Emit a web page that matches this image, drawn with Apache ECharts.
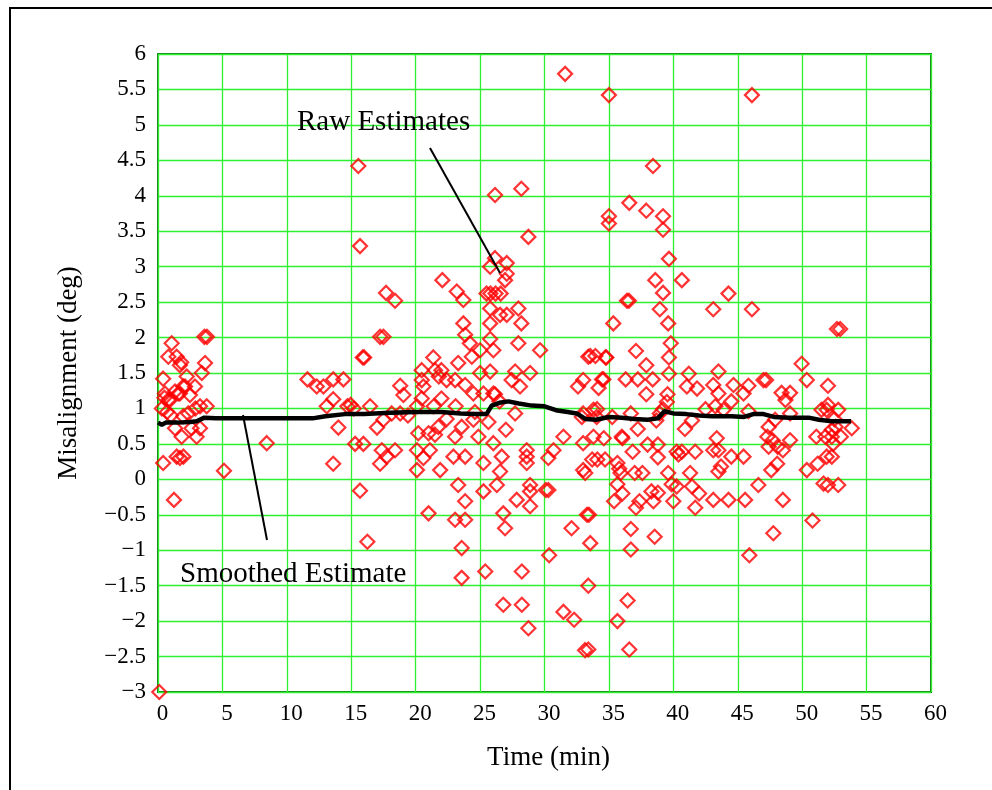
<!DOCTYPE html>
<html>
<head>
<meta charset="utf-8">
<script src="https://cdn.jsdelivr.net/npm/echarts@6/dist/echarts.min.js"></script>
<style>
html,body{margin:0;padding:0;background:#fff;}
#chart{width:992px;height:790px;}
</style>
</head>
<body>
<div id="chart"></div>
<script>
// Raw estimates: time (min) and misalignment (deg)
var rawTime = [
0.1,0.4,0.4,0.5,0.8,0.8,1.06,1.45,1.7,1.8,3.6,3.8,3.65,3.4,2.23,2.87,1.32,1.96,2.48,1.7,2.35,3.26,3.78,1.96,1.32,1.84,2.6,3.0,3.26,1.45,1.97,1.7,1.24,0.54,0.93,1.58,2.1,0.3,0.7,2.9,1.0,
5.12,8.44,11.6,
12.32,12.84,13.6,14.39,13.6,13.1,14.7,14.95,15.2,16.46,14.0,15.3,15.94,13.6,15.68,16.25,15.55,15.68,17.7,18.4,17.24,17.5,15.9,16.0,18.8,19.05,17.0,17.5,18.14,18.8,19.4,17.37,18.4,17.75,17.24,20.2,20.1,20.6,20.1,21.9,20.47,20.47,20.6,20.47,20.1,21.0,21.5,21.1,21.0,21.5,22.0,22.0,21.4,22.4,21.76,22.4,21.37,22.07,21.8,
26.16,28.2,28.75,26.16,25.78,27.07,27.07,26.94,23.19,23.7,25.5,25.8,26.2,26.6,25.78,26.55,27.07,27.97,28.2,23.7,25.78,23.84,24.2,25.78,24.36,25.0,26.03,27.97,29.66,23.3,25.78,27.72,28.88,27.45,28.1,23.06,23.84,24.48,25.26,26.03,26.15,26.5,27.72,32.6,33.0,33.0,33.4,23.1,23.57,24.48,25.65,23.06,24.87,26.03,31.47,33.0,22.93,23.84,25.26,26.68,26.55,28.62,28.62,28.62,30.7,30.3,33.0,23.3,23.84,25.26,26.3,27.84,28.88,28.88,28.88,30.1,30.3,23.06,23.84,26.8,26.94,32.1,23.57,30.36,25.4,28.24,23.57,26.8,28.24,28.75,31.47,32.3,33.15,31.6,32.9,24.6,25.0,27.0,
35.0,38.42,36.58,37.9,39.2,39.2,35.0,35.0,39.66,38.6,40.66,39.2,36.4,36.55,38.95,39.6,35.34,39.8,39.66,37.1,37.9,33.55,33.95,34.74,34.47,36.3,37.24,38.4,39.66,41.2,34.2,37.9,39.55,41.05,41.84,39.5,39.2,42.5,34.08,35.26,36.7,38.95,38.68,33.8,34.6,36.05,37.24,38.0,38.8,40.9,41.45,33.7,34.1,33.16,34.7,35.66,35.8,35.9,36.84,37.0,37.6,38.8,40.26,40.4,40.66,41.7,39.6,41.3,35.66,36.05,35.4,37.37,37.1,38.3,38.45,38.8,39.87,40.26,40.0,41.45,42.0,41.7,33.3,33.45,33.55,36.7,36.7,38.55,33.4,36.45,35.66,33.4,36.58,34.8,34.57,34.05,33.8,36.0,
46.1,44.28,43.1,46.1,52.7,52.95,49.96,43.5,47.0,47.2,50.36,52.0,43.1,44.67,45.83,45.45,43.5,48.4,49.06,48.7,44.5,43.26,52.0,51.5,51.9,52.8,49.06,43.9,45.83,47.9,47.4,53.85,52.6,52.3,43.37,47.3,47.7,49.06,51.1,51.8,52.3,53.0,47.4,48.1,48.5,43.1,43.5,44.5,45.45,48.06,51.9,52.3,51.2,50.36,47.6,43.7,43.5,46.6,51.66,52.0,52.8,43.1,44.28,45.57,48.5,50.8,47.76,45.9,52.5,52.4
];
var rawMis = [
-3.0,1.42,0.23,1.15,1.12,1.73,1.92,1.73,1.61,1.65,2.01,2.01,1.64,1.5,1.45,1.31,1.24,1.31,1.19,1.21,0.93,1.03,1.03,0.89,0.72,0.6,0.72,0.6,0.72,0.32,0.32,0.3,-0.29,1.21,1.12,1.21,1.31,1.0,0.95,1.0,0.9,
0.12,0.51,1.41,
1.31,1.31,1.41,1.41,1.13,1.03,1.03,1.05,1.0,1.03,0.73,0.5,0.5,0.22,-0.16,-0.88,4.42,3.29,2.63,2.52,2.01,2.01,1.72,1.72,1.32,1.19,0.73,0.84,0.93,0.93,0.9,0.41,0.41,0.32,0.22,0.65,0.41,0.3,0.13,0.13,1.54,1.4,1.31,1.14,1.03,0.65,0.63,0.41,-0.48,1.54,1.54,1.14,1.03,1.4,0.74,0.85,1.72,2.81,1.45,
4.01,4.1,3.42,3.12,3.0,3.05,2.9,2.81,2.65,2.53,2.62,2.62,2.62,2.62,2.41,2.32,2.32,2.41,2.2,2.2,2.2,2.04,1.92,1.98,1.73,1.82,1.82,1.92,1.82,1.64,1.52,1.52,1.5,1.4,1.31,1.4,1.33,1.21,1.21,1.21,1.2,1.1,0.93,1.31,1.4,0.93,1.73,1.03,0.74,0.84,0.81,0.6,0.6,0.51,0.6,0.51,0.32,0.32,0.23,0.32,0.11,0.41,0.32,0.23,0.41,0.3,0.13,-0.08,-0.31,-0.17,-0.08,-0.29,-0.08,-0.17,-0.38,-0.15,-0.15,-0.57,-0.57,-0.48,-0.69,-0.69,-0.97,-1.07,-1.3,-1.3,-1.39,-1.77,-1.77,-2.1,-1.87,-1.98,-2.41,5.72,0.88,0.95,1.5,0.7,
5.42,4.42,3.9,3.79,3.71,3.52,3.71,3.61,3.11,2.81,2.81,2.63,2.52,2.52,2.4,2.2,2.2,1.92,1.72,1.81,1.61,1.74,1.74,1.72,1.41,1.41,1.41,1.41,1.49,1.49,1.29,1.2,1.2,1.31,1.28,1.09,0.99,0.99,0.99,0.88,0.93,0.93,0.83,0.6,0.58,0.58,0.71,0.49,0.49,0.71,0.83,0.28,0.28,0.09,0.28,0.23,0.15,0.09,0.39,0.09,0.09,0.31,0.39,0.35,0.39,0.39,0.09,0.09,-0.07,-0.2,-0.31,-0.31,-0.4,-0.17,-0.31,-0.19,-0.07,-0.1,-0.31,-0.1,-0.2,-0.4,-0.5,-0.5,-0.9,-0.7,-0.99,-0.81,-1.5,-1.71,-2.0,-2.4,-2.4,1.72,1.41,0.88,0.98,0.6,
5.42,2.62,2.4,2.4,2.12,2.12,1.63,1.52,1.4,1.4,1.4,1.32,1.33,1.33,1.32,1.21,1.21,1.22,1.22,1.12,1.1,1.03,1.05,0.98,0.98,0.98,0.93,0.98,0.96,0.84,0.74,0.72,0.74,0.7,0.58,0.6,0.55,0.55,0.6,0.6,0.6,0.6,0.46,0.46,0.41,0.41,0.41,0.32,0.32,0.22,0.32,0.32,0.22,0.13,0.13,0.18,0.11,-0.08,-0.06,-0.08,-0.08,-0.29,-0.29,-0.29,-0.29,-0.58,-0.76,-1.07,0.85,0.5
];
// Smoothed estimate
var smoothTime = [0,0.3,0.6,1.5,2.5,3.0,3.6,4.5,8,12,13,14.5,16,18,20,22,23.5,24.5,25.5,25.9,26.5,27.2,28.0,29.0,30.0,31.0,31.8,32.5,33.2,34.0,35.0,36.0,37.0,38.0,38.8,39.3,40.0,41.0,42.0,43.0,44.5,45.5,46.2,47.0,47.8,49.0,50.5,51.3,52.3,53.8];
var smoothMis = [0.80,0.77,0.80,0.80,0.81,0.82,0.87,0.86,0.86,0.86,0.89,0.92,0.92,0.94,0.95,0.95,0.93,0.92,0.92,1.04,1.08,1.10,1.07,1.04,1.03,0.97,0.95,0.93,0.85,0.84,0.88,0.87,0.85,0.84,0.86,0.96,0.93,0.92,0.90,0.89,0.89,0.88,0.92,0.92,0.88,0.87,0.87,0.84,0.82,0.82];

var xTicks = {min:0, max:60, step:5};
var yTicks = {min:-3, max:6, step:0.5};

var rawData = rawTime.map(function(t,i){return [t, rawMis[i]];});
var smoothData = smoothTime.map(function(t,i){return [t, smoothMis[i]];});

var serif = "'Liberation Serif','Times New Roman',serif";
var chart = echarts.init(document.getElementById('chart'), null, {renderer:'canvas'});
chart.setOption({
  animation:false,
  backgroundColor:'#ffffff',
  grid:{left:158, top:54, right:61, bottom:98, show:true, borderColor:'#1a7a1a', borderWidth:2, backgroundColor:'transparent'},
  xAxis:{
    type:'value', min:xTicks.min, max:xTicks.max, interval:xTicks.step,
    name:'Time (min)', nameLocation:'middle', nameGap:52,
    nameTextStyle:{fontFamily:serif, fontSize:27, color:'#000', padding:[0,0,0,8]},
    axisLine:{show:false}, axisTick:{show:false},
    axisLabel:{fontFamily:serif, fontSize:23, color:'#000', margin:10, padding:[0,0,0,9]},
    splitLine:{show:true, lineStyle:{color:'#2ef02e', width:1.3}}
  },
  yAxis:{
    type:'value', min:yTicks.min, max:yTicks.max, interval:yTicks.step,
    name:'Misalignment (deg)', nameLocation:'middle', nameGap:76,
    nameTextStyle:{fontFamily:serif, fontSize:27, color:'#000'},
    axisLine:{show:false}, axisTick:{show:false},
    axisLabel:{fontFamily:serif, fontSize:23, color:'#000', margin:12,
      formatter:function(v){return String(v).replace('-', '\u2212');}},
    splitLine:{show:true, lineStyle:{color:'#2ef02e', width:1.3}}
  },
  series:[
    {type:'scatter', data:rawData, symbol:'diamond', symbolSize:14, clip:true,
     itemStyle:{color:'rgba(0,0,0,0)', borderColor:'#ff0000', borderWidth:2.2}, z:2},
    {type:'line', data:smoothData, symbol:'none', clip:true,
     lineStyle:{color:'#000', width:4.5}, z:3}
  ],
  graphic:[
    {type:'rect', shape:{x:10, y:8, width:1000, height:800}, style:{fill:'none', stroke:'#000', lineWidth:2}, silent:true, z:0},
    {type:'text', left:297, top:108, style:{text:'Raw Estimates', font:'29px '+serif, fill:'#000'}, z:10},
    {type:'line', shape:{x1:430, y1:148, x2:500, y2:273}, style:{stroke:'#000', lineWidth:2}, z:10},
    {type:'text', left:180, top:560, style:{text:'Smoothed Estimate', font:'29px '+serif, fill:'#000'}, z:10},
    {type:'line', shape:{x1:243, y1:415, x2:267, y2:540}, style:{stroke:'#000', lineWidth:2}, z:10}
  ]
});
</script>
</body>
</html>
